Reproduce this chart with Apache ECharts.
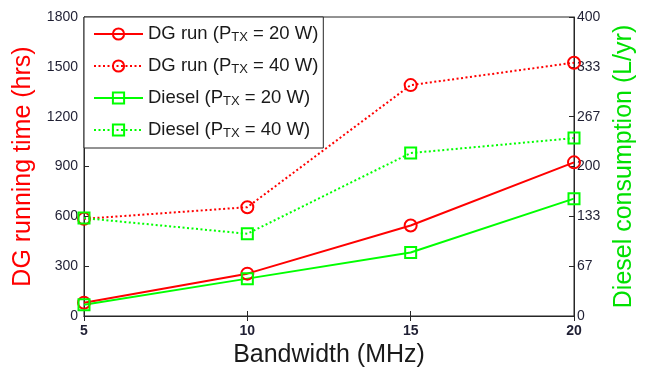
<!DOCTYPE html>
<html>
<head>
<meta charset="utf-8">
<script src="https://cdn.jsdelivr.net/npm/echarts@6/dist/echarts.min.js"></script>
<style>
  html, body { margin: 0; padding: 0; background: #fff; }
  #chart { width: 645px; height: 369px; }
</style>
</head>
<body>
<div id="chart"></div>
<script>
// Bandwidth values (MHz)
const bandwidth = [5, 10, 15, 20];
// DG running time (hrs), left axis
const dgRun20 = [80, 255, 545, 925];
const dgRun40 = [585, 655, 1390, 1525];
// Diesel consumption (L/yr), right axis
const diesel20 = [15, 50, 85, 157];
const diesel40 = [131, 110, 218, 238];
// Right axis tick labels
const rightTicks = ['0', '67', '133', '200', '267', '333', '400'];

const FONT = 'Liberation Sans, Arial, sans-serif';
const RED = '#ff0000';
const GREEN = '#00ff00';
const AXIS = '#262626';
const TICK_TEXT = '#1f1f33';

function pairs(ys) { return bandwidth.map((x, i) => [x, ys[i]]); }

const legendLabels = {
  'DG run 20': ['DG run (P', ' = 20 W)'],
  'DG run 40': ['DG run (P', ' = 40 W)'],
  'Diesel 20': ['Diesel (P', ' = 20 W)'],
  'Diesel 40': ['Diesel (P', ' = 40 W)']
};

function makeSeries(name, data, color, dotted, symbol, yIndex) {
  return {
    name: name,
    type: 'line',
    yAxisIndex: yIndex,
    data: pairs(data),
    symbol: symbol,
    symbolSize: symbol === 'circle' ? 12 : 11,
    showAllSymbol: true,
    lineStyle: { color: color, width: 2, type: dotted ? [2, 2.5] : 'solid' },
    itemStyle: { color: 'rgba(255,255,255,0)', borderColor: color, borderWidth: 2 },
    emphasis: { disabled: true },
    z: 2,
    animation: false
  };
}

const chart = echarts.init(document.getElementById('chart'), null, { renderer: 'canvas' });
chart.setOption({
  backgroundColor: '#fff',
  animation: false,
  textStyle: { fontFamily: FONT },
  grid: {
    left: 84, right: 71, top: 17, bottom: 53,
    outerBoundsMode: 'none', containLabel: false,
    show: true, borderColor: AXIS, borderWidth: 1
  },
  legend: {
    orient: 'vertical',
    left: 84,
    top: 17,
    padding: [4, 5, 8, 9],
    itemGap: 9,
    itemWidth: 49,
    itemHeight: 14,
    backgroundColor: '#fff',
    borderColor: AXIS,
    borderWidth: 1,
    borderRadius: 0,
    z: 10,
    data: ['DG run 20', 'DG run 40', 'Diesel 20', 'Diesel 40'],
    formatter: function (name) {
      const p = legendLabels[name];
      return '{a|' + p[0] + '}{s|TX}{a|' + p[1] + '}';
    },
    textStyle: {
      rich: {
        a: { fontFamily: FONT, fontSize: 18.5, color: '#1a1a1a', lineHeight: 20, verticalAlign: 'middle' },
        s: { fontFamily: FONT, fontSize: 13, color: '#1a1a1a', lineHeight: 10, verticalAlign: 'bottom', padding: [10, 0, 0, 0] }
      }
    }
  },
  xAxis: [{
    type: 'value',
    min: 5, max: 20, interval: 5,
    position: 'bottom',
    name: 'Bandwidth (MHz)',
    nameLocation: 'middle',
    nameGap: 25,
    nameTextStyle: { fontFamily: FONT, fontSize: 25, color: '#1a1a1a', verticalAlign: 'top' },
    axisLine: { show: true, lineStyle: { color: AXIS, width: 1 } },
    axisTick: { show: true, inside: true, length: 5, lineStyle: { color: AXIS } },
    axisLabel: { fontFamily: FONT, fontSize: 14, color: TICK_TEXT, margin: 8, fontWeight: 'bold' },
    splitLine: { show: false }
  }, {
    type: 'value',
    min: 5, max: 20, interval: 5,
    position: 'top',
    axisLine: { show: true, lineStyle: { color: AXIS, width: 1 } },
    axisTick: { show: true, inside: true, length: 5, lineStyle: { color: AXIS } },
    axisLabel: { show: false },
    splitLine: { show: false }
  }],
  yAxis: [{
    type: 'value',
    min: 0, max: 1800, interval: 300,
    position: 'left',
    name: 'DG running time (hrs)',
    nameLocation: 'middle',
    nameGap: 43,
    nameRotate: 90,
    nameTextStyle: { fontFamily: FONT, fontSize: 25, color: RED },
    axisLine: { show: true, lineStyle: { color: AXIS, width: 1 } },
    axisTick: { show: true, inside: true, length: 5, lineStyle: { color: AXIS } },
    axisLabel: {
      fontFamily: FONT, fontSize: 14, color: TICK_TEXT, margin: 6,
      formatter: function (v) { return String(v); }
    },
    splitLine: { show: false }
  }, {
    type: 'value',
    min: 0, max: 400, interval: 400 / 6,
    position: 'right',
    name: 'Diesel consumption (L/yr)',
    nameLocation: 'middle',
    nameGap: 35,
    nameRotate: 90,
    nameTextStyle: { fontFamily: FONT, fontSize: 25, color: '#00e000' },
    axisLine: { show: true, lineStyle: { color: AXIS, width: 1 } },
    axisTick: { show: true, inside: true, length: 5, lineStyle: { color: AXIS } },
    axisLabel: {
      fontFamily: FONT, fontSize: 14, color: TICK_TEXT, margin: 3,
      formatter: function (v) { return rightTicks[Math.round(v / (400 / 6))]; }
    },
    splitLine: { show: false }
  }],
  series: [
    makeSeries('DG run 20', dgRun20, RED, false, 'circle', 0),
    makeSeries('DG run 40', dgRun40, RED, true, 'circle', 0),
    makeSeries('Diesel 20', diesel20, GREEN, false, 'rect', 1),
    makeSeries('Diesel 40', diesel40, GREEN, true, 'rect', 1)
  ]
});
</script>
</body>
</html>
